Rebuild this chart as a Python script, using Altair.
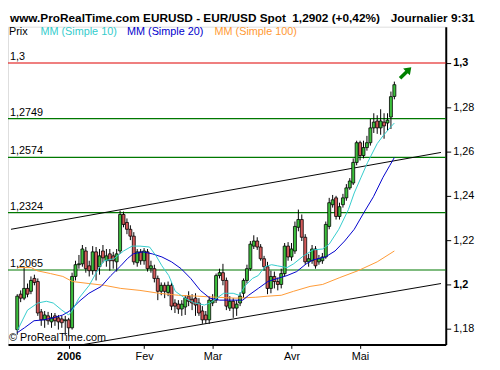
import altair as alt
import pandas as pd

# ---- candles (index 0 = early Dec 2005, trading days) ----
opens = [1.1796, 1.1956, 1.1938, 1.1982, 1.1969, 1.2027, 1.2013, 1.1876, 1.1840, 1.1858,
         1.1831, 1.1858, 1.1849, 1.1844, 1.1836, 1.1840, 1.1804, 1.2036, 1.2089, 1.2093,
         1.2151, 1.2084, 1.2062, 1.2147, 1.2080, 1.2151, 1.2107, 1.2138, 1.2129, 1.2102,
         1.2151, 1.2316, 1.2280, 1.2249, 1.2218, 1.2098, 1.2147, 1.2107, 1.2147, 1.2071,
         1.2071, 1.2027, 1.1969, 1.1996, 1.1964, 1.1996, 1.1916, 1.1911, 1.1889, 1.1898,
         1.1947, 1.1933, 1.1938, 1.1916, 1.1880, 1.1862, 1.1840, 1.1916, 1.1929, 1.2040,
         1.2053, 1.2018, 1.1893, 1.1924, 1.1893, 1.1916, 1.1960, 1.2018, 1.2071, 1.2173,
         1.2196, 1.2169, 1.2116, 1.2080, 1.1982, 1.2036, 1.2013, 1.2000, 1.2049, 1.2173,
         1.2124, 1.2151, 1.2258, 1.2293, 1.2213, 1.2102, 1.2107, 1.2160, 1.2102, 1.2107,
         1.2124, 1.2262, 1.2360, 1.2391, 1.2307, 1.2360, 1.2391, 1.2436, 1.2458, 1.2551,
         1.2640, 1.2582, 1.2618, 1.2640, 1.2707, 1.2738, 1.2707, 1.2733, 1.2729, 1.2756,
         1.2849]
highs = [1.1956, 1.1973, 1.2080, 1.2004, 1.2036, 1.2044, 1.2027, 1.1889, 1.1880, 1.1876,
         1.1871, 1.1871, 1.1862, 1.1858, 1.1858, 1.1849, 1.2053, 1.2107, 1.2133, 1.2178,
         1.2169, 1.2107, 1.2173, 1.2169, 1.2160, 1.2178, 1.2160, 1.2160, 1.2147, 1.2160,
         1.2333, 1.2329, 1.2298, 1.2267, 1.2236, 1.2160, 1.2160, 1.2164, 1.2160, 1.2107,
         1.2089, 1.2040, 1.2009, 1.2009, 1.2013, 1.2009, 1.1933, 1.1929, 1.1929, 1.1951,
         1.1969, 1.1956, 1.1960, 1.1938, 1.1902, 1.1880, 1.1947, 1.1956, 1.2049, 1.2071,
         1.2093, 1.2031, 1.1947, 1.1938, 1.1929, 1.1964, 1.2027, 1.2089, 1.2196, 1.2222,
         1.2213, 1.2182, 1.2129, 1.2102, 1.2062, 1.2058, 1.2031, 1.2071, 1.2187, 1.2191,
         1.2187, 1.2284, 1.2338, 1.2316, 1.2227, 1.2138, 1.2178, 1.2173, 1.2133, 1.2142,
         1.2284, 1.2391, 1.2404, 1.2400, 1.2369, 1.2409, 1.2453, 1.2480, 1.2569, 1.2649,
         1.2649, 1.2649, 1.2671, 1.2747, 1.2773, 1.2764, 1.2791, 1.2773, 1.2773, 1.2871,
         1.2916]
lows = [1.1773, 1.1920, 1.1929, 1.1942, 1.1956, 1.1996, 1.1858, 1.1813, 1.1804, 1.1818,
        1.1804, 1.1813, 1.1796, 1.1804, 1.1769, 1.1769, 1.1796, 1.2018, 1.2071, 1.2080,
        1.2053, 1.2036, 1.2044, 1.2018, 1.2044, 1.2098, 1.2080, 1.2062, 1.2071, 1.2058,
        1.2138, 1.2258, 1.2227, 1.2200, 1.2089, 1.2080, 1.2089, 1.2089, 1.2058, 1.2053,
        1.2009, 1.1929, 1.1951, 1.1938, 1.1947, 1.1884, 1.1871, 1.1867, 1.1858, 1.1862,
        1.1902, 1.1884, 1.1858, 1.1858, 1.1822, 1.1822, 1.1822, 1.1902, 1.1916, 1.2027,
        1.1996, 1.1884, 1.1880, 1.1849, 1.1858, 1.1902, 1.1938, 1.2004, 1.2062, 1.2160,
        1.2156, 1.2107, 1.2062, 1.1956, 1.1960, 1.1982, 1.1973, 1.1982, 1.2036, 1.2107,
        1.2107, 1.2138, 1.2240, 1.2196, 1.2089, 1.2080, 1.2093, 1.2071, 1.2089, 1.2093,
        1.2116, 1.2249, 1.2347, 1.2293, 1.2293, 1.2347, 1.2378, 1.2427, 1.2449, 1.2538,
        1.2560, 1.2569, 1.2604, 1.2627, 1.2684, 1.2680, 1.2676, 1.2658, 1.2693, 1.2702,
        1.2836]
closes = [1.1947, 1.1938, 1.1982, 1.1956, 1.2018, 1.2009, 1.1871, 1.1840, 1.1862, 1.1836,
          1.1849, 1.1836, 1.1831, 1.1827, 1.1840, 1.1804, 1.2036, 1.2089, 1.2093, 1.2160,
          1.2071, 1.2062, 1.2147, 1.2062, 1.2129, 1.2120, 1.2129, 1.2107, 1.2107, 1.2138,
          1.2316, 1.2271, 1.2249, 1.2218, 1.2102, 1.2147, 1.2107, 1.2151, 1.2071, 1.2084,
          1.2027, 1.1969, 1.1996, 1.1969, 1.1996, 1.1902, 1.1902, 1.1889, 1.1911, 1.1938,
          1.1924, 1.1916, 1.1907, 1.1871, 1.1840, 1.1840, 1.1929, 1.1929, 1.2040, 1.2053,
          1.2018, 1.1902, 1.1924, 1.1893, 1.1911, 1.1947, 1.2018, 1.2071, 1.2182, 1.2196,
          1.2169, 1.2116, 1.2080, 1.1982, 1.2036, 1.2013, 1.2000, 1.2049, 1.2173, 1.2124,
          1.2160, 1.2262, 1.2293, 1.2213, 1.2102, 1.2116, 1.2160, 1.2084, 1.2116, 1.2124,
          1.2271, 1.2369, 1.2382, 1.2307, 1.2351, 1.2391, 1.2436, 1.2467, 1.2551, 1.2640,
          1.2582, 1.2618, 1.2640, 1.2707, 1.2733, 1.2707, 1.2738, 1.2716, 1.2742, 1.2848,
          1.2902]

ma10_i = [0, 3, 6, 8.5, 10.5, 13, 15, 16, 18, 21, 23.7, 25.4, 28.2, 31, 33.5, 35.8, 38.6,
          40.5, 42.2, 44.2, 46.1, 48.9, 51.8, 54.6, 56.2, 58.2, 60.2, 63, 64.7, 66.6, 68.6,
          70.3, 72.2, 74.2, 75.9, 78.7, 80.6, 83.5, 86.3, 89.1, 91, 93.8, 96.6, 98.3, 100.3,
          102.2, 105, 106.7, 108.7, 110]
ma10_v = [1.1791, 1.1884, 1.1916, 1.1924, 1.1916, 1.1884, 1.1862, 1.1880, 1.1938, 1.1996,
          1.2071, 1.2107, 1.2116, 1.2151, 1.2173, 1.2173, 1.2169, 1.2129, 1.2084, 1.2040,
          1.1969, 1.1938, 1.1916, 1.1907, 1.1916, 1.1938, 1.1960, 1.1960, 1.1951, 1.1996,
          1.2027, 1.2040, 1.2080, 1.2089, 1.2084, 1.2076, 1.2093, 1.2129, 1.2156, 1.2160,
          1.2182, 1.2249, 1.2338, 1.2413, 1.2484, 1.2551, 1.2636, 1.2671, 1.2707, 1.2729]
ma20_i = [0, 2.1, 4.9, 7.7, 10.5, 13.3, 15.3, 18.1, 20.9, 24.5, 27.3, 30.2, 32.1, 33.8, 36.6,
          39.4, 42.2, 45, 47.8, 50.6, 53.4, 56.2, 59, 61.9, 65.8, 67.5, 70.3, 73.1, 75.9,
          78.7, 81.5, 84.3, 86.3, 89.9, 92.7, 95.5, 98.3, 101.1, 103.9, 106.7, 108.7, 110]
ma20_v = [1.1782, 1.1804, 1.1836, 1.1840, 1.1849, 1.1862, 1.1880, 1.1924, 1.1960, 1.1991,
          1.2040, 1.2084, 1.2116, 1.2138, 1.2147, 1.2138, 1.2124, 1.2102, 1.2071, 1.2027,
          1.1973, 1.1938, 1.1929, 1.1929, 1.1929, 1.1951, 1.1982, 1.2013, 1.2027, 1.2040,
          1.2058, 1.2093, 1.2111, 1.2124, 1.2151, 1.2196, 1.2249, 1.2324, 1.2396, 1.2484,
          1.2538, 1.2573]
ma100_i = [0, 4.1, 5.75, 9.7, 13.3, 16.1, 20.9, 25.4, 30.2, 35.8, 41.4, 47, 52.6, 58.2, 63.8,
           69.4, 73.1, 77, 80.6, 85.4, 89.1, 94.1, 99.4, 105, 110]
ma100_v = [1.2076, 1.2076, 1.2062, 1.2049, 1.2036, 1.2013, 1.2004, 1.1996, 1.1982, 1.1973,
           1.1960, 1.1951, 1.1947, 1.1942, 1.1938, 1.1942, 1.1947, 1.1951, 1.1969, 1.1991,
           1.2000, 1.2031, 1.2062, 1.2102, 1.2151]

# ---- horizontal levels ----
level_values = [1.3, 1.2749, 1.2574, 1.2324, 1.2065]
level_labels = ["1,3", "1,2749", "1,2574", "1,2324", "1,2065"]
level_colors = ["#E00000", "#007800", "#007800", "#007800", "#007800"]

# ---- trend channel lines (index, price) ----
trend_id = ["up", "up", "low", "low"]
trend_i = [-1.82, 123.6, 19.5, 123.6]
trend_v = [1.2249, 1.2596, 1.1729, 1.2004]

# ---- axes ----
month_ticks = [15, 37, 57, 80, 100]
month_labels = ["2006", "Fev", "Mar", "Avr", "Mai"]
price_ticks = [1.18, 1.19, 1.20, 1.21, 1.22, 1.23, 1.24, 1.25, 1.26, 1.27, 1.28, 1.29, 1.30, 1.31]

FONT = "Liberation Sans"

candles = pd.DataFrame({"i": list(range(len(opens))), "open": opens, "high": highs,
                        "low": lows, "close": closes})
candles["fill"] = ["#3CC03C" if c >= o else "#D45A5A" for o, c in zip(opens, closes)]

xs = alt.Scale(domain=[-1.26, 123.56], nice=False, zero=False)
ys = alt.Scale(domain=[1.1729, 1.3164], nice=False, zero=False)

lbl_js = "[" + ",".join("'%s'" % s for s in month_labels) + "]"
tk_js = "[" + ",".join(str(t) for t in month_ticks) + "]"

x_axis = alt.Axis(values=month_ticks, labelExpr=f"{lbl_js}[indexof({tk_js}, datum.value)]",
                  title=None, grid=False, orient="bottom", domainColor="black", domainWidth=2,
                  tickColor="black", tickSize=4, labelColor="black", labelFont=FONT,
                  labelFontSize=11, labelPadding=2,
                  labelFontWeight={"condition": {"test": "datum.value == 15", "value": "bold"},
                                   "value": "normal"})
y_axis = alt.Axis(values=price_ticks, orient="right", title=None, grid=False,
                  labelExpr="(round(datum.value*100) % 2 == 0) ? replace(format(datum.value, '.2~f'), '.', ',') : ''",
                  domainColor="black", domainWidth=2, tickColor="black",
                  tickSize={"condition": {"test": "round(datum.value*100) % 2 == 0", "value": 5},
                            "value": 3},
                  labelColor="black", labelFont=FONT, labelFontSize=11, labelPadding=2,
                  labelFontWeight={"condition": {"test": "abs(datum.value-1.3)<0.001 || abs(datum.value-1.2)<0.001",
                                                 "value": "bold"}, "value": "normal"})

base = alt.Chart(candles)

wicks = base.mark_rule(color="black", strokeWidth=1).encode(
    x=alt.X("i:Q", scale=xs, axis=x_axis),
    y=alt.Y("low:Q", scale=ys, axis=y_axis),
    y2="high:Q")
bodies = base.mark_bar(size=3, stroke="black", strokeWidth=0.8).encode(
    x=alt.X("i:Q", scale=xs),
    y=alt.Y("open:Q", scale=ys),
    y2="close:Q",
    color=alt.Color("fill:N", scale=None))

lv = pd.DataFrame({"v": level_values, "lab": level_labels, "col": level_colors})
levels = alt.Chart(lv).mark_rule(strokeWidth=1.2).encode(
    y=alt.Y("v:Q", scale=ys), color=alt.Color("col:N", scale=None))
level_text = alt.Chart(lv).mark_text(align="left", baseline="alphabetic", dy=-3,
                                     font=FONT, fontSize=11, color="black").encode(
    x=alt.value(2), y=alt.Y("v:Q", scale=ys), text="lab:N")

tr = pd.DataFrame({"id": trend_id, "i": trend_i, "v": trend_v})
trends = alt.Chart(tr).mark_line(color="black", strokeWidth=1, clip=True).encode(
    x=alt.X("i:Q", scale=xs), y=alt.Y("v:Q", scale=ys), detail="id:N")

def ma_layer(ix, vals, col):
    d = pd.DataFrame({"i": ix, "v": vals})
    return alt.Chart(d).mark_line(color=col, strokeWidth=1, clip=True).encode(
        x=alt.X("i:Q", scale=xs), y=alt.Y("v:Q", scale=ys))

ma100 = ma_layer(ma100_i, ma100_v, "#FF9933")
ma20 = ma_layer(ma20_i, ma20_v, "#0000CC")
ma10 = ma_layer(ma10_i, ma10_v, "#33CCCC")

# legend row inside top of the frame
leg_text = ["Prix", "MM (Simple 10)", "MM (Simple 20)", "MM (Simple 100)"]
leg_col = ["#000000", "#33CCCC", "#0000CC", "#FF9933"]
leg_x = [1, 33, 121, 210]
leg = pd.DataFrame({"t": leg_text, "c": leg_col, "x": leg_x})
legend = alt.Chart(leg).mark_text(align="left", baseline="alphabetic", font=FONT,
                                  fontSize=11).encode(
    x=alt.X("x:Q", scale=None), y=alt.value(8), text="t:N", color=alt.Color("c:N", scale=None))

# header
hdr_text = ["www.ProRealTime.com EURUSD - EUR/USD Spot", "1,2902 (+0,42%)", "Journalier  9:31"]
hdr_x = [2, 289, 389]
hdr = pd.DataFrame({"t": hdr_text, "x": hdr_x})
header = alt.Chart(hdr).mark_text(align="left", baseline="alphabetic", font=FONT, fontSize=12,
                                  fontWeight="bold", color="black").encode(
    x=alt.X("x:Q", scale=None), y=alt.value(-5), text="t:N")

copy = alt.Chart(pd.DataFrame({"t": ["© ProRealTime.com"]})).mark_text(
    align="left", baseline="alphabetic", font=FONT, fontSize=11, color="black").encode(
    x=alt.value(1), y=alt.value(320), text="t:N")

arrow_df = pd.DataFrame({"i": [113.3], "v": [1.2956]})
arrow = alt.Chart(arrow_df).mark_point(
    shape="M-0.22,1 L0.22,1 L0.22,-0.15 L0.6,-0.15 L0,-1 L-0.6,-0.15 L-0.22,-0.15 Z",
    angle=45, filled=True, color="#008000", opacity=1, size=260).encode(
    x=alt.X("i:Q", scale=xs), y=alt.Y("v:Q", scale=ys))

chart = alt.layer(levels, trends, wicks, bodies, ma100, ma20, ma10, level_text, legend,
                  header, copy, arrow).properties(
    width=445, height=323,
    padding={"left": 0, "top": 16, "right": 47, "bottom": 23},
    autosize=alt.AutoSizeParams(type="none"),
    background="white"
).configure_view(stroke="black", strokeWidth=1).configure(font=FONT)

chart.save("out.html", embed_options={"renderer": "svg", "actions": False})
